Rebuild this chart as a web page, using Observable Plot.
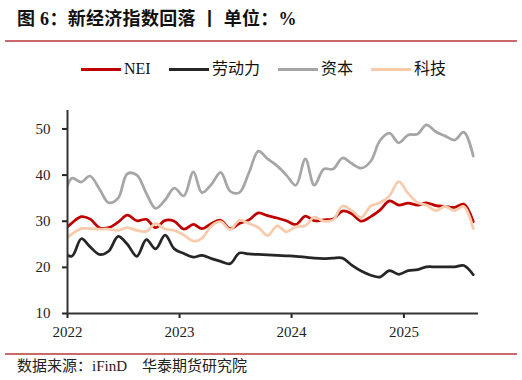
<!DOCTYPE html>
<html>
<head>
<meta charset="utf-8">
<script src="https://cdn.jsdelivr.net/npm/d3@7"></script>
<script src="https://cdn.jsdelivr.net/npm/@observablehq/plot@0.6"></script>
<style>
  html, body { margin: 0; padding: 0; background: #fff; }
  #wrap { position: relative; width: 522px; height: 380px; overflow: hidden; background: #fff; font-family: "Liberation Serif", "Noto Sans CJK SC", serif; color: #111; }
  #title { position: absolute; left: 17px; top: 4px; font-size: 18px; font-weight: bold; white-space: nowrap; letter-spacing: 0.3px; }
  .hr { position: absolute; left: 5px; width: 512px; height: 2px; background: #C86A6A; }
  .sw { position: absolute; height: 3px; width: 40px; }
  .lt { position: absolute; font-size: 16px; white-space: nowrap; line-height: 16px; }
  #chart { position: absolute; left: 0; top: 100px; }
  #source { position: absolute; left: 17px; top: 358px; font-size: 15px; white-space: nowrap; line-height: 16px; color: #222; }
  #chart [aria-label^="y-axis"] line, #chart [aria-label^="y-axis"] path,
  #chart [aria-label^="x-axis"] line, #chart [aria-label^="x-axis"] path { stroke-width: 2; }
</style>
</head>
<body>
<div id="wrap">
  <div id="title">图 6：新经济指数回落 丨 单位：%</div>
  <div class="hr" style="top:40px"></div>
  <div id="legend"></div>
  <div id="chart"></div>
  <div class="hr" style="top:353px"></div>
  <div id="source">数据来源：iFinD　华泰期货研究院</div>
</div>
<script>
// Monthly observations (dated mid-month)
const months = ["2021-12",
  "2022-01","2022-02","2022-03","2022-04","2022-05","2022-06","2022-07","2022-08","2022-09","2022-10","2022-11","2022-12",
  "2023-01","2023-02","2023-03","2023-04","2023-05","2023-06","2023-07","2023-08","2023-09","2023-10","2023-11","2023-12",
  "2024-01","2024-02","2024-03","2024-04","2024-05","2024-06","2024-07","2024-08","2024-09","2024-10","2024-11","2024-12",
  "2025-01","2025-02","2025-03","2025-04","2025-05","2025-06","2025-07","2025-08"];

const seriesNames = ["NEI", "劳动力", "资本", "科技"];

const nei = [27.8,
  29.6, 31.0, 30.5, 28.6, 28.6, 29.8, 31.3, 30.1, 30.4, 28.6, 30.2, 30.0,
  28.3, 29.3, 28.4, 29.5, 30.2, 28.4, 29.5, 30.3, 31.8, 31.2, 30.7, 30.1,
  29.3, 31.1, 30.1, 30.3, 30.5, 32.2, 31.6, 30.0, 31.0, 32.4, 34.4, 33.5,
  33.9, 33.5, 34.0, 33.4, 33.2, 33.0, 33.7, 29.9];

const labor = [23.5,
  22.4, 26.2, 24.5, 22.8, 23.5, 26.7, 25.0, 22.4, 26.0, 24.0, 27.0, 24.0,
  23.0, 22.2, 22.6, 21.9, 21.3, 20.8, 23.1, 22.9, 22.8, 22.7, 22.6, 22.5,
  22.4, 22.2, 22.0, 21.9, 22.0, 22.0, 20.5, 19.2, 18.3, 17.9, 19.3, 18.5,
  19.3, 19.5, 20.1, 20.1, 20.1, 20.1, 20.4, 18.4];

const capital = [33.5,
  39.3, 38.5, 39.8, 37.0, 34.0, 35.0, 40.3, 40.0, 36.0, 32.8, 34.6, 37.2,
  35.5, 40.7, 36.2, 38.0, 40.6, 36.5, 36.2, 40.5, 45.2, 43.5, 42.0, 40.0,
  37.8, 43.5, 37.8, 41.3, 41.3, 43.7, 42.5, 41.5, 43.0, 47.5, 49.1, 47.0,
  48.7, 48.9, 50.9, 49.4, 48.5, 47.6, 49.3, 44.1];

const tech = [25.5,
  27.2, 28.4, 28.4, 28.3, 28.3, 28.0, 28.6, 28.0, 27.8, 29.5, 28.3, 28.0,
  27.0, 25.7, 26.3, 29.0, 29.9, 28.2, 30.2, 29.5, 28.6, 26.9, 29.0, 27.7,
  28.8, 29.0, 30.9, 30.0, 30.3, 33.3, 32.3, 30.8, 33.3, 34.0, 35.5, 38.6,
  36.0, 34.0, 33.5, 32.3, 33.2, 32.3, 33.2, 28.4];

const yTicks = [10, 20, 30, 40, 50];
const xTickLabels = ["2022", "2023", "2024", "2025"];

const colors = {"NEI": "#C00000", "劳动力": "#262626", "资本": "#A6A6A6", "科技": "#F8CBAD"};
const valuesBySeries = {"NEI": nei, "劳动力": labor, "资本": capital, "科技": tech};

const parseMonth = d3.utcParse("%Y-%m");
const dates = months.map(m => d3.utcDay.offset(parseMonth(m), 14));
const table = seriesNames.flatMap(name =>
  valuesBySeries[name].map((v, i) => ({date: dates[i], value: v, series: name})));

const xStart = parseMonth("2022-01");
const xEnd = parseMonth("2025-09");
const yearTicks = xTickLabels.map(y => d3.utcParse("%Y")(y));

const chart = Plot.plot({
  width: 522,
  height: 240,
  marginLeft: 67,
  marginRight: 44,
  marginTop: 10,
  marginBottom: 27,
  style: {fontFamily: "'Liberation Serif', serif", fontSize: "15px", color: "#222", background: "transparent", overflow: "visible"},
  x: {type: "utc", domain: [xStart, xEnd], ticks: yearTicks, tickFormat: d3.utcFormat("%Y"), tickSize: 5, tickPadding: 8, label: null},
  y: {domain: [10, 54], ticks: yTicks, tickSize: 5, tickPadding: 12, label: null},
  marks: [
    ...seriesNames.map(name => Plot.line(table.filter(d => d.series === name), {
      x: "date", y: "value", stroke: colors[name], strokeWidth: 2.75,
      curve: "catmull-rom", clip: true
    })),
    Plot.ruleY([10], {stroke: "#333", strokeWidth: 2}),
    Plot.ruleX([xStart], {stroke: "#333", strokeWidth: 2})
  ]
});
document.getElementById("chart").appendChild(chart);

// Legend
const legendPos = [
  {name: "NEI", sw: 81, tx: 124},
  {name: "劳动力", sw: 169, tx: 212},
  {name: "资本", sw: 278, tx: 321},
  {name: "科技", sw: 371, tx: 414}
];
const legend = document.getElementById("legend");
legendPos.forEach(p => {
  const s = document.createElement("div");
  s.className = "sw";
  s.style.left = p.sw + "px";
  s.style.top = "68px";
  s.style.background = colors[p.name];
  legend.appendChild(s);
  const t = document.createElement("div");
  t.className = "lt";
  t.style.left = p.tx + "px";
  t.style.top = "61px";
  t.textContent = p.name;
  legend.appendChild(t);
});
</script>
</body>
</html>
